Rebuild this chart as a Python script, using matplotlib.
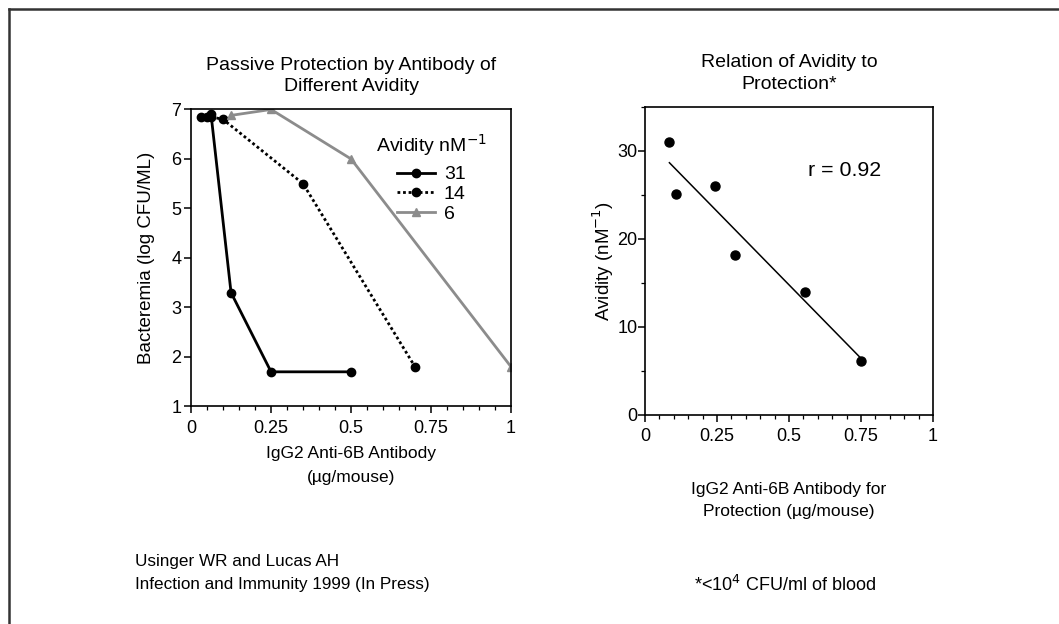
import matplotlib.pyplot as plt
import numpy as np
from matplotlib.lines import Line2D
from matplotlib.ticker import MultipleLocator

plt.rcParams['font.family'] = ['Liberation Sans', 'DejaVu Sans']

# left panel: bacteremia vs antibody dose for three avidities
x31 = [0.03, 0.05, 0.0625, 0.125, 0.25, 0.5]
y31 = [6.85, 6.85, 6.9, 3.3, 1.7, 1.7]
x14 = [0.0625, 0.1, 0.35, 0.7]
y14 = [6.85, 6.8, 5.5, 1.8]
x6 = [0.125, 0.25, 0.5, 1.0]
y6 = [6.88, 7.0, 6.0, 1.8]

# right panel: avidity vs dose needed for protection
dose = [0.085, 0.108, 0.243, 0.311, 0.556, 0.75]
avidity = [31.0, 25.1, 26.0, 18.1, 14.0, 6.1]

xticks = [0, 0.25, 0.5, 0.75, 1]
xticklabels = ['0', '0.25', '0.5', '0.75', '1']

fig = plt.figure(figsize=(10.59, 6.24), dpi=100)

def style(ax):
    for s in ax.spines.values():
        s.set_linewidth(1.2)
    ax.tick_params(direction='out', length=5, width=1.1, labelsize=13, pad=2)
    ax.tick_params(axis='x', pad=5)
    ax.tick_params(which='minor', direction='out', length=3, width=0.9)
    ax.set_xticks(xticks)
    ax.set_xticklabels(xticklabels)
    ax.xaxis.set_minor_locator(MultipleLocator(0.05))

ax1 = fig.add_axes([0.1804, 0.3486, 0.3022, 0.476])
ax1.plot(x31, y31, color='black', lw=2, marker='o', ms=6, label='31')
ax1.plot(x14, y14, color='black', lw=2, ls=(0, (1, 1)), marker='o', ms=6, label='14')
ax1.plot(x6, y6, color='#8c8c8c', lw=2, marker='^', ms=6, label='6')
ax1.set_xlim(0, 1)
ax1.set_ylim(1, 7)
ax1.set_yticks(range(1, 8))
style(ax1)
ax1.set_ylabel('Bacteremia (log CFU/ML)', fontsize=13.5, labelpad=12)
ax1.set_xlabel('IgG2 Anti-6B Antibody\n(µg/mouse)', fontsize=12.5, labelpad=6, linespacing=1.8)
ax1.set_title('Passive Protection by Antibody of\nDifferent Avidity', fontsize=14, pad=13, linespacing=1.35)
ax1.text(0.578, 0.881, 'Avidity nM$^{-1}$', transform=ax1.transAxes, fontsize=14, va='center')
ax1.legend(loc='upper left', bbox_to_anchor=(0.644, 0.81), borderaxespad=0,
           frameon=False, fontsize=14, handlelength=1.95,
           labelspacing=0.1, borderpad=0, handletextpad=0.45)

ax2 = fig.add_axes([0.609, 0.3357, 0.272, 0.4928])
ax2.plot(dose, avidity, 'o', color='black', ms=6.5)
slope, icpt = np.polyfit(dose, avidity, 1)
xs = np.array([min(dose), max(dose)])
ax2.plot(xs, slope * xs + icpt, color='black', lw=1.1)
ax2.set_xlim(0, 1)
ax2.set_ylim(0, 35)
ax2.set_yticks([0, 10, 20, 30])
ax2.yaxis.set_minor_locator(MultipleLocator(5))
style(ax2)
ax2.tick_params(axis='y', pad=0.5)
ax2.set_ylabel('Avidity (nM$^{-1}$)', fontsize=13.5, labelpad=1)
ax2.set_xlabel('IgG2 Anti-6B Antibody for\nProtection (µg/mouse)', fontsize=12.5, labelpad=26, linespacing=1.65)
ax2.set_title('Relation of Avidity to\nProtection*', fontsize=14, pad=13, linespacing=1.35)
ax2.text(0.565, 0.795, 'r = 0.92', transform=ax2.transAxes, fontsize=15.4, va='center')

fig.text(135 / 1059, 1 - 573 / 624, 'Usinger WR and Lucas AH\nInfection and Immunity 1999 (In Press)',
         fontsize=12.3, va='center', linespacing=1.7)
fig.text(694 / 1059, 1 - 585 / 624, '*<10$^4$ CFU/ml of blood', fontsize=13, va='center')

# outer frame (only left and top edges visible)
fig.add_artist(Line2D([9 / 1059, 9 / 1059], [0, 1 - 8.5 / 624], transform=fig.transFigure, color='#333333', lw=1.8))
fig.add_artist(Line2D([9 / 1059, 1], [1 - 8.5 / 624, 1 - 8.5 / 624], transform=fig.transFigure, color='#333333', lw=1.8))

fig.savefig('out.png', dpi=100)
